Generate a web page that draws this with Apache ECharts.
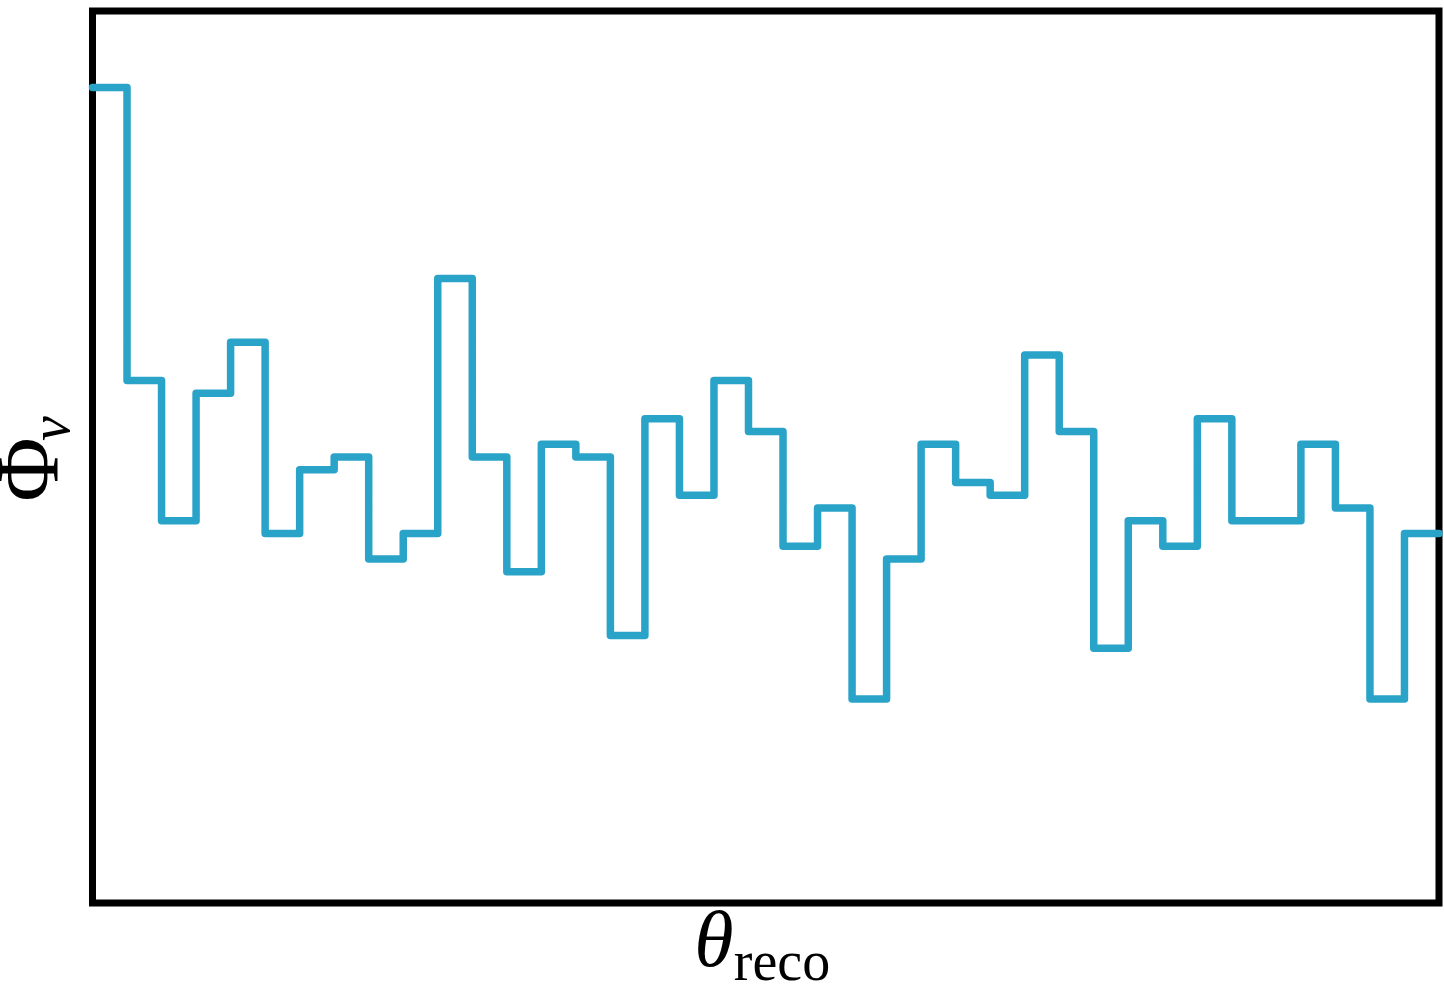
<!DOCTYPE html>
<html>
<head>
<meta charset="utf-8">
<script src="https://cdn.jsdelivr.net/npm/echarts@6/dist/echarts.min.js"></script>
<style>
html,body{margin:0;padding:0;background:#fff;}
#chart{width:1444px;height:1004px;}
</style>
</head>
<body>
<div id="chart"></div>
<script>
// bin index (left edges) and counts per bin
const binEdges = [0,1,2,3,4,5,6,7,8,9,10,11,12,13,14,15,16,17,18,19,20,21,22,23,24,25,26,27,28,29,30,31,32,33,34,35,36,37,38,39];
const counts = [64,41,30,40,44,29,34,35,27,29,49,35,26,36,35,21,38,32,41,37,28,31,16,27,36,33,32,43,37,20,30,28,38,30,30,36,31,16,29];
const xLabelMain = 'θ';
const xLabelSub = 'reco';
const yLabelMain = 'Φ';
const yLabelSub = 'ν';

const stepData = [];
for (let i = 0; i < counts.length; i++) stepData.push([binEdges[i], counts[i]]);
stepData.push([binEdges[counts.length], counts[counts.length - 1]]);

const chart = echarts.init(document.getElementById('chart'), null, {renderer: 'canvas'});
const serif = '"Liberation Serif", "DejaVu Serif", serif';
chart.setOption({
  animation: false,
  backgroundColor: '#ffffff',
  grid: {left: 92.5, right: 5, top: 11, bottom: 101, show: true, borderColor: '#000', borderWidth: 7, backgroundColor: 'transparent', containLabel: false},
  xAxis: {type: 'value', min: 0, max: 39, axisLine: {show: false}, axisTick: {show: false}, axisLabel: {show: false}, splitLine: {show: false}},
  yAxis: {type: 'value', min: 0, max: 70, axisLine: {show: false}, axisTick: {show: false}, axisLabel: {show: false}, splitLine: {show: false}},
  series: [{
    type: 'line', step: 'end', data: stepData, symbol: 'none', clip: true,
    lineStyle: {color: '#2aa3c8', width: 7.5, join: 'round', cap: 'round'}
  }],
  graphic: [
    {type: 'group', x: 35, y: 457, rotation: Math.PI / 2, children: [
      {type: 'text', style: {text: yLabelMain, x: -12.5, y: -1, fontFamily: serif, fontSize: 88, fill: '#000', textAlign: 'center', textVerticalAlign: 'middle'}},
      {type: 'text', style: {text: yLabelSub, x: 28.5, y: 19, fontFamily: serif, fontStyle: 'italic', fontSize: 56, fill: '#000', textAlign: 'center', textVerticalAlign: 'middle'}}
    ]},
    {type: 'text', style: {text: xLabelMain, x: 714, y: 945, fontFamily: serif, fontStyle: 'italic', fontSize: 80, fill: '#000', textAlign: 'center', textVerticalAlign: 'middle'}},
    {type: 'text', style: {text: xLabelSub, x: 782, y: 965, fontFamily: serif, fontSize: 56, fill: '#000', textAlign: 'center', textVerticalAlign: 'middle'}}
  ]
});
</script>
</body>
</html>
